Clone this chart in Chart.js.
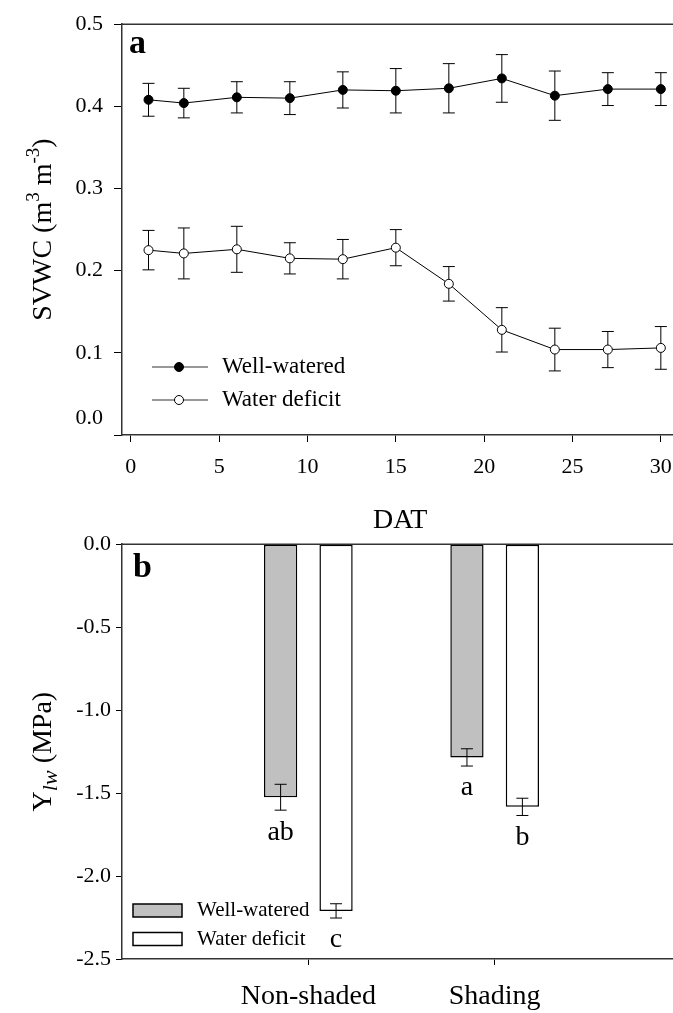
<!DOCTYPE html>
<html>
<head>
<meta charset="utf-8">
<script src="https://cdn.jsdelivr.net/npm/chart.js@4"></script>
<style>
html, body { margin: 0; padding: 0; background: #fff; overflow: hidden; width: 673px; height: 1013px; }
canvas { position: absolute; left: 0; }
#chartA { top: 0; }
#chartB { top: 526px; }
</style>
</head>
<body>
<canvas id="chartA" width="684" height="540"></canvas>
<canvas id="chartB" width="683" height="487"></canvas>
<script>
// panel a: soil volumetric water content over days after treatment
const dat = [1, 3, 6, 9, 12, 15, 18, 21, 24, 27, 30];
const wellWatered = [0.408, 0.404, 0.411, 0.410, 0.420, 0.419, 0.422, 0.434, 0.413, 0.421, 0.421];
const wellWateredErr = [0.020, 0.018, 0.019, 0.020, 0.022, 0.027, 0.030, 0.029, 0.030, 0.020, 0.020];
const waterDeficit = [0.225, 0.221, 0.226, 0.215, 0.214, 0.228, 0.184, 0.128, 0.104, 0.104, 0.106];
const waterDeficitErr = [0.024, 0.031, 0.028, 0.019, 0.024, 0.022, 0.021, 0.027, 0.026, 0.022, 0.026];

// panel b: leaf water potential
const treatments = ['Non-shaded', 'Shading'];
const lwpWell = [-1.525, -1.285];
const lwpWellErr = [0.078, 0.052];
const lwpDeficit = [-2.21, -1.583];
const lwpDeficitErr = [0.043, 0.052];
const lettersWell = ['ab', 'a'];
const lettersDeficit = ['c', 'b'];

const SERIF = '"Liberation Serif", "Times New Roman", serif';
const AXIS = '#333';
Chart.defaults.font.family = SERIF;
Chart.defaults.color = '#000';
Chart.defaults.animation = false;
Chart.defaults.events = [];

function richText(ctx, parts, cx, cy) {
    ctx.save();
    ctx.translate(cx, cy);
    ctx.rotate(-Math.PI / 2);
    let total = 0;
    parts.forEach(p => { ctx.font = p.font; p.w = ctx.measureText(p.text).width; total += p.w; });
    let x = -total / 2;
    ctx.textBaseline = 'alphabetic';
    ctx.textAlign = 'left';
    ctx.fillStyle = '#000';
    parts.forEach(p => { ctx.font = p.font; ctx.fillText(p.text, x, p.dy); x += p.w; });
    ctx.restore();
}

function drawErrors(chart, capHalf) {
    const ctx = chart.ctx;
    const y = chart.scales.y;
    ctx.save();
    ctx.strokeStyle = '#000';
    ctx.lineWidth = 1;
    chart.data.datasets.forEach((ds, i) => {
        const meta = chart.getDatasetMeta(i);
        meta.data.forEach((el, j) => {
            const v = ds.data[j];
            const e = ds.errors[j];
            if (v == null || e == null) return;
            const val = typeof v === 'object' ? v.y : v;
            const top = y.getPixelForValue(val + e);
            const bot = y.getPixelForValue(val - e);
            ctx.beginPath();
            ctx.moveTo(el.x, top); ctx.lineTo(el.x, bot);
            ctx.moveTo(el.x - capHalf, top); ctx.lineTo(el.x + capHalf, top);
            ctx.moveTo(el.x - capHalf, bot); ctx.lineTo(el.x + capHalf, bot);
            ctx.stroke();
        });
    });
    ctx.restore();
}

// keep the plot area full width: no extra room for the edge tick labels
const noSidePad = s => { s.paddingLeft = 0; s.paddingRight = 0; };

const frame = {
    id: 'frame',
    beforeDatasetsDraw(chart) {
        const {ctx, chartArea: a} = chart;
        ctx.save();
        ctx.strokeStyle = AXIS;
        ctx.lineWidth = 1.5;
        ctx.beginPath();
        ctx.moveTo(a.left, a.top);
        ctx.lineTo(a.right, a.top);
        ctx.lineTo(a.right, a.bottom);
        ctx.stroke();
        ctx.restore();
    }
};

// ---------- panel a ----------
const panelA = {
    id: 'panelA',
    beforeDatasetsDraw(chart) { drawErrors(chart, 6); },
    afterDraw(chart) {
        const {ctx, chartArea: a} = chart;
        const y = chart.scales.y;
        ctx.save();
        ctx.fillStyle = '#000';
        ctx.font = 'bold 34px ' + SERIF;
        ctx.textBaseline = 'alphabetic';
        ctx.fillText('a', a.left + 7, a.top + 29);
        // raised first tick label, as in the original
        ctx.font = '22px ' + SERIF;
        ctx.textAlign = 'right';
        ctx.textBaseline = 'middle';
        ctx.fillText('0.0', a.left - 19, y.getPixelForValue(0) - 17);
        // legend
        const rows = [
            {label: 'Well-watered', fill: '#000', y: a.bottom - 68},
            {label: 'Water deficit', fill: '#fff', y: a.bottom - 35}
        ];
        ctx.textAlign = 'left';
        ctx.font = '23px ' + SERIF;
        rows.forEach(r => {
            ctx.strokeStyle = AXIS;
            ctx.lineWidth = 1.2;
            ctx.beginPath();
            ctx.moveTo(a.left + 30, r.y); ctx.lineTo(a.left + 86, r.y);
            ctx.stroke();
            ctx.beginPath();
            ctx.arc(a.left + 57, r.y, 4.5, 0, Math.PI * 2);
            ctx.fillStyle = r.fill;
            ctx.fill();
            ctx.strokeStyle = '#000';
            ctx.lineWidth = 1;
            ctx.stroke();
            ctx.fillStyle = '#000';
            ctx.fillText(r.label, a.left + 100, r.y);
        });
        richText(ctx, [
            {text: 'SVWC (m', font: '28px ' + SERIF, dy: 9},
            {text: '3', font: '19px ' + SERIF, dy: -3},
            {text: ' m', font: '28px ' + SERIF, dy: 9},
            {text: '-3', font: '19px ' + SERIF, dy: -3},
            {text: ')', font: '28px ' + SERIF, dy: 9}
        ], 42, (a.top + a.bottom) / 2);
        ctx.restore();
    }
};

new Chart(document.getElementById('chartA'), {
    type: 'line',
    data: {
        datasets: [
            {
                label: 'Well-watered',
                data: dat.map((d, i) => ({x: d, y: wellWatered[i]})),
                errors: wellWateredErr,
                borderColor: '#000',
                borderWidth: 1,
                pointRadius: 4.5,
                pointBackgroundColor: '#000',
                pointBorderColor: '#000',
                pointBorderWidth: 1
            },
            {
                label: 'Water deficit',
                data: dat.map((d, i) => ({x: d, y: waterDeficit[i]})),
                errors: waterDeficitErr,
                borderColor: '#000',
                borderWidth: 1,
                pointRadius: 4.5,
                pointBackgroundColor: '#fff',
                pointBorderColor: '#000',
                pointBorderWidth: 1
            }
        ]
    },
    options: {
        responsive: false,
        devicePixelRatio: 1,
        layout: {padding: {top: 17.5, right: 2, left: 0, bottom: 0}},
        plugins: {legend: {display: false}, tooltip: {enabled: false}},
        scales: {
            x: {
                type: 'linear',
                min: -0.5,
                max: 31,
                afterFit: s => { s.height = 105; noSidePad(s); },
                ticks: {stepSize: 5, includeBounds: false, padding: 12, font: {size: 22}, maxRotation: 0},
                grid: {drawOnChartArea: false, tickLength: 7, color: '#000'},
                border: {color: AXIS, width: 1.5},
                title: {display: true, text: 'DAT', font: {size: 28}, padding: {top: 0, bottom: 3}}
            },
            y: {
                min: 0,
                max: 0.5,
                afterFit: s => { s.width = 122; },
                ticks: {stepSize: 0.1, padding: 11, font: {size: 22}, callback: v => v === 0 ? '' : v.toFixed(1)},
                grid: {drawOnChartArea: false, tickLength: 8, color: '#000'},
                border: {color: AXIS, width: 1.5}
            }
        }
    },
    plugins: [frame, panelA]
});

// ---------- panel b ----------
const panelB = {
    id: 'panelB',
    afterDatasetsDraw(chart) {
        drawErrors(chart, 6);
        const {ctx} = chart;
        const y = chart.scales.y;
        ctx.save();
        ctx.fillStyle = '#000';
        ctx.font = '28px ' + SERIF;
        ctx.textAlign = 'center';
        ctx.textBaseline = 'middle';
        chart.data.datasets.forEach((ds, i) => {
            chart.getDatasetMeta(i).data.forEach((el, j) => {
                if (ds.letters[j] == null) return;
                ctx.fillText(ds.letters[j], el.x, y.getPixelForValue(ds.data[j] - ds.errors[j]) + 22);
            });
        });
        ctx.restore();
    },
    afterDraw(chart) {
        const {ctx, chartArea: a} = chart;
        ctx.save();
        ctx.fillStyle = '#000';
        ctx.font = 'bold 34px ' + SERIF;
        ctx.textBaseline = 'alphabetic';
        ctx.fillText('b', a.left + 11, a.top + 33);
        const rows = [
            {label: 'Well-watered', fill: '#c0c0c0', y: a.bottom - 48.5},
            {label: 'Water deficit', fill: '#fff', y: a.bottom - 20}
        ];
        ctx.font = '21px ' + SERIF;
        ctx.textBaseline = 'middle';
        rows.forEach(r => {
            ctx.fillStyle = r.fill;
            ctx.fillRect(a.left + 11, r.y - 6.5, 49, 13);
            ctx.strokeStyle = '#000';
            ctx.lineWidth = 1.5;
            ctx.strokeRect(a.left + 11, r.y - 6.5, 49, 13);
            ctx.fillStyle = '#000';
            ctx.fillText(r.label, a.left + 75, r.y);
        });
        richText(ctx, [
            {text: 'Y', font: '28px ' + SERIF, dy: 9},
            {text: 'lw', font: 'italic 22px ' + SERIF, dy: 15},
            {text: ' (MPa)', font: '28px ' + SERIF, dy: 9}
        ], 42, (a.top + a.bottom) / 2);
        ctx.restore();
    }
};

const padded = arr => [null, ...arr, null];

new Chart(document.getElementById('chartB'), {
    type: 'bar',
    data: {
        labels: ['', ...treatments, ''],
        datasets: [
            {
                label: 'Well-watered',
                data: padded(lwpWell),
                errors: padded(lwpWellErr),
                letters: padded(lettersWell),
                backgroundColor: '#c0c0c0',
                borderColor: '#000',
                borderWidth: 1.5,
                borderSkipped: false
            },
            {
                label: 'Water deficit',
                data: padded(lwpDeficit),
                errors: padded(lwpDeficitErr),
                letters: padded(lettersDeficit),
                backgroundColor: '#fff',
                borderColor: '#000',
                borderWidth: 1.5,
                borderSkipped: false
            }
        ]
    },
    options: {
        responsive: false,
        devicePixelRatio: 1,
        categoryPercentage: 0.595,
        barPercentage: 0.6,
        layout: {padding: {top: 16, right: 2, left: 0, bottom: 0}},
        plugins: {legend: {display: false}, tooltip: {enabled: false}},
        scales: {
            x: {
                type: 'category',
                offset: false,
                afterFit: s => { s.height = 54; noSidePad(s); },
                ticks: {padding: 15, font: {size: 28}, maxRotation: 0, autoSkip: false},
                grid: {
                    offset: false,
                    drawOnChartArea: false,
                    tickLength: 6,
                    tickColor: c => (c.tick && c.tick.label) ? '#000' : 'rgba(0,0,0,0)'
                },
                border: {color: AXIS, width: 1.5}
            },
            y: {
                min: -2.5,
                max: 0,
                afterFit: s => { s.width = 122; },
                ticks: {stepSize: 0.5, padding: 5, font: {size: 22}, callback: v => v.toFixed(1)},
                grid: {drawOnChartArea: false, tickLength: 6, color: '#000'},
                border: {color: AXIS, width: 1.5}
            }
        }
    },
    plugins: [frame, panelB]
});
</script>
</body>
</html>
